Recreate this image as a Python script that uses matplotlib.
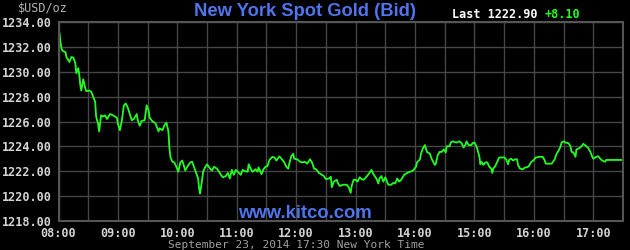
import numpy as np
import matplotlib
matplotlib.use('Agg')
import matplotlib.pyplot as plt

# Spot gold, Sept 23 2014, minutes after 08:00 vs bid price [USD/oz]
minutes = [1, 2, 3, 4, 7, 8, 11, 13, 15, 17, 18, 20, 21, 22, 23, 25, 27, 28, 31, 33,
           35, 37, 38, 40, 41, 43, 45, 47, 49, 52, 55, 59, 60, 62, 64, 66, 68, 70, 72, 74,
           76, 79, 80, 82, 84, 87, 89, 91, 92, 95, 98, 101, 102, 105, 107, 109, 111, 112, 113, 115,
           117, 119, 121, 123, 125, 126, 128, 130, 133, 135, 137, 139, 141, 142, 143, 145, 146, 148, 150, 153,
           155, 157, 160, 162, 164, 166, 169, 171, 173, 175, 177, 179, 181, 184, 186, 188, 191, 192, 194, 196,
           199, 201, 202, 205, 207, 209, 211, 213, 216, 218, 220, 223, 225, 228, 230, 232, 233, 235, 237, 238,
           241, 244, 246, 249, 251, 254, 256, 258, 260, 263, 265, 268, 270, 273, 275, 276, 278, 281, 282, 284,
           287, 291, 293, 295, 296, 298, 300, 302, 304, 306, 308, 311, 313, 316, 318, 321, 323, 324, 326, 328,
           330, 333, 336, 338, 340, 342, 344, 346, 349, 352, 355, 358, 361, 362, 365, 366, 368, 370, 372, 375,
           377, 380, 381, 383, 385, 387, 389, 391, 392, 395, 396, 398, 402, 405, 407, 409, 411, 412, 414, 417,
           418, 420, 422, 423, 425, 426, 427, 429, 431, 433, 435, 437, 438, 439, 441, 443, 445, 448, 450, 452,
           454, 455, 457, 459, 461, 463, 464, 466, 469, 471, 473, 475, 477, 480, 482, 486, 489, 491, 492, 496,
           498, 501, 503, 505, 507, 508, 510, 512, 515, 517, 518, 520, 522, 523, 526, 528, 530, 533, 535, 537,
           539, 540, 543, 545, 547, 549, 552, 553, 555, 569]
price = [1233.1, 1232.4, 1231.9, 1231.7, 1231.6, 1231.2, 1230.8, 1231.2, 1231.15, 1230.7,
         1229.9, 1230.3, 1229.75, 1228.95, 1228.5, 1229.4, 1228.7, 1228.45, 1228.5, 1228.4,
         1228.0, 1227.6, 1226.4, 1225.8, 1225.2, 1226.5, 1226.4, 1226.5, 1226.2, 1226.6,
         1226.5, 1226.3, 1225.8, 1225.3, 1226.1, 1227.3, 1227.45, 1227.1, 1226.6, 1226.1,
         1226.2, 1226.6, 1226.1, 1225.65, 1226.05, 1226.1, 1227.3, 1226.9, 1226.3, 1226.0,
         1225.85, 1225.2, 1225.45, 1225.3, 1225.7, 1225.9, 1225.2, 1223.85, 1223.15, 1222.75,
         1222.7, 1222.35, 1221.95, 1222.7, 1222.85, 1222.6, 1222.05, 1222.35, 1222.7, 1222.75,
         1222.3, 1221.85, 1221.4, 1220.6, 1220.2, 1221.3, 1221.95, 1222.3, 1222.55, 1222.2,
         1222.05, 1222.35, 1222.2, 1221.95, 1221.7, 1221.5, 1221.6, 1221.85, 1221.4, 1222.1,
         1221.7, 1222.1, 1221.95, 1221.7, 1222.1, 1222.0, 1221.95, 1222.55, 1222.2, 1221.95,
         1222.15, 1221.95, 1222.3, 1221.75, 1222.15, 1222.35, 1222.4, 1222.9, 1223.15, 1223.1,
         1222.85, 1223.2, 1223.0, 1222.7, 1222.35, 1222.2, 1222.6, 1223.2, 1223.4, 1223.0,
         1222.95, 1222.75, 1222.7, 1222.75, 1222.6, 1222.95, 1222.7, 1222.2, 1222.15, 1221.85,
         1221.75, 1221.6, 1221.35, 1221.4, 1221.55, 1220.7, 1221.15, 1221.3, 1221.05, 1220.8,
         1220.9, 1220.9, 1220.7, 1220.25, 1220.8, 1221.3, 1221.3, 1221.15, 1221.5, 1221.35,
         1221.3, 1221.55, 1221.75, 1222.1, 1221.75, 1221.4, 1221.0, 1221.4, 1221.6, 1221.15,
         1221.5, 1220.9, 1220.9, 1221.05, 1221.0, 1221.4, 1221.15, 1221.3, 1221.7, 1221.85,
         1221.95, 1222.05, 1222.35, 1222.7, 1222.95, 1223.4, 1223.85, 1224.1, 1223.55, 1223.4,
         1222.95, 1222.5, 1222.6, 1223.3, 1223.55, 1223.55, 1223.75, 1223.5, 1224.0, 1224.0,
         1224.3, 1224.4, 1224.3, 1224.4, 1224.25, 1223.9, 1224.15, 1224.4, 1224.1, 1224.1,
         1224.25, 1224.3, 1224.0, 1223.75, 1223.15, 1222.55, 1222.75, 1222.5, 1222.7, 1222.7,
         1222.35, 1222.2, 1221.85, 1222.2, 1222.4, 1222.75, 1223.1, 1223.1, 1223.1, 1222.95,
         1222.55, 1222.9, 1223.0, 1222.85, 1222.95, 1222.95, 1222.5, 1222.2, 1222.15, 1222.3,
         1222.3, 1222.4, 1222.7, 1222.9, 1223.1, 1223.15, 1223.15, 1222.85, 1222.6, 1222.6,
         1222.6, 1222.95, 1223.4, 1223.65, 1224.0, 1224.3, 1224.4, 1224.3, 1224.25, 1224.0,
         1223.55, 1223.5, 1223.15, 1223.75, 1223.85, 1224.0, 1224.2, 1224.0, 1223.85, 1223.55,
         1223.15, 1223.0, 1223.15, 1223.2, 1223.0, 1222.85, 1222.75, 1222.9, 1222.9, 1222.9]

hour_labels = ['08:00', '09:00', '10:00', '11:00', '12:00', '13:00', '14:00', '15:00', '16:00', '17:00']
price_ticks = [1218, 1220, 1222, 1224, 1226, 1228, 1230, 1232, 1234]

mono = 'DejaVu Sans Mono'
fig = plt.figure(figsize=(6.3, 2.5), dpi=100, facecolor='black')
ax = fig.add_axes([58.5/630, 1-220.7/250, (623-58.5)/630, (220.7-22.3)/250])
ax.set_facecolor('black')

ax.plot(minutes, price, color='#22ff22', lw=1.3)

ax.set_xlim(0, 570)
ax.set_ylim(1218, 1234)
ax.set_xticks(np.arange(len(hour_labels)) * 60)
ax.set_xticks(np.arange(0, 571, 30), minor=True)
ax.set_xticklabels(hour_labels)
ax.set_yticks(price_ticks)
ax.set_yticklabels(['%.2f' % p for p in price_ticks])
ax.grid(True, which='both', axis='x', color='#464646', lw=1)
ax.grid(True, which='major', axis='y', color='#464646', lw=1)
ax.tick_params(which='both', length=0, colors='#d4d4d4')
ax.tick_params(axis='y', pad=5)
ax.tick_params(axis='x', pad=4.3)
for lab in ax.get_xticklabels() + ax.get_yticklabels():
    lab.set_fontfamily(mono)
    lab.set_fontweight('bold')
    lab.set_fontsize(8.5)
for s in ax.spines.values():
    s.set_color('#555555')
    s.set_linewidth(1.5)

fig.text(18/630, 1-9/250, '$USD/oz', color='#b4b4b4', family=mono, fontsize=8.5,
         ha='left', va='center')
fig.text(304.5/630, 1-12/250, 'New York Spot Gold (Bid)', color='#4f74ec', family='Liberation Sans',
         fontweight='bold', fontsize=13.2, ha='center', va='center')
fig.text(452/630, 1-15/250, 'Last 1222.90', color='white', family=mono, fontweight='bold',
         fontsize=8.5, ha='left', va='center')
fig.text(545/630, 1-15/250, '+8.10', color='#22ff22', family=mono, fontweight='bold',
         fontsize=8.5, ha='left', va='center')
fig.text(304.5/630, 1-213/250, 'www.kitco.com', color='#4f74ec', family='Liberation Sans',
         fontweight='bold', fontsize=13.3, ha='center', va='center')
fig.text(296.5/630, 1-244.5/250, 'September 23, 2014 17:30 New York Time', color='#a0a0a0',
         family=mono, fontsize=8, ha='center', va='center')

fig.savefig('out.png', dpi=100, facecolor='black')
